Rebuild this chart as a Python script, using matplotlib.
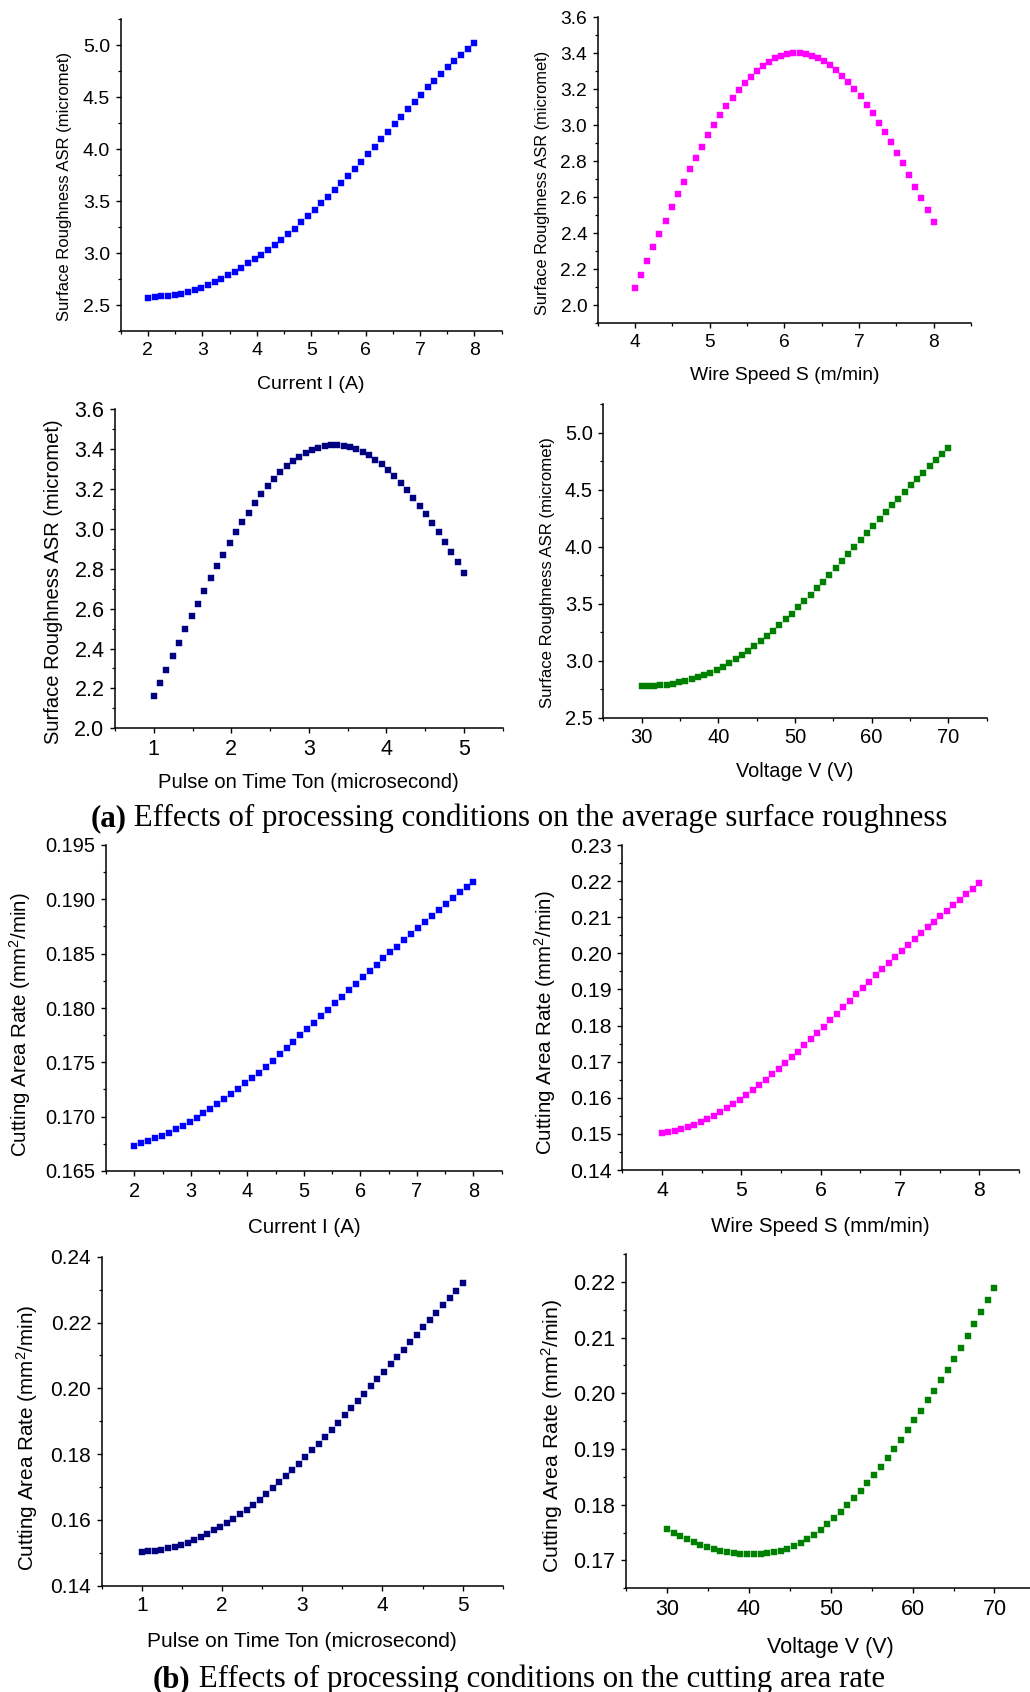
import numpy as np
import matplotlib
matplotlib.use('Agg')
from matplotlib import pyplot as plt
from matplotlib.ticker import MultipleLocator, FormatStrFormatter

plt.rcParams['font.family'] = 'Liberation Sans'
plt.rcParams['mathtext.fontset'] = 'custom'
plt.rcParams['mathtext.rm'] = 'Liberation Sans'
plt.rcParams['mathtext.it'] = 'Liberation Sans:italic'
plt.rcParams['mathtext.bf'] = 'Liberation Sans:bold'

W, H = 1030, 1692

# process parameter grids (50 evenly spaced settings each)
current_I = np.linspace(2, 8, 50)
wire_speed = np.linspace(4, 8, 50)
pulse_on = np.linspace(1, 5, 50)
voltage = np.linspace(30, 70, 50)

# average surface roughness ASR (micrometre)
asr_current = [2.571, 2.577, 2.584, 2.590, 2.600, 2.609, 2.625, 2.642, 2.667, 2.690,
               2.719, 2.751, 2.786, 2.822, 2.860, 2.902, 2.944, 2.986, 3.031, 3.076,
               3.127, 3.179, 3.234, 3.295, 3.353, 3.417, 3.478, 3.542, 3.610, 3.674,
               3.742, 3.813, 3.880, 3.954, 4.025, 4.099, 4.170, 4.241, 4.311, 4.382,
               4.456, 4.524, 4.595, 4.659, 4.723, 4.788, 4.846, 4.905, 4.961, 5.019]
asr_speed = [2.096, 2.170, 2.246, 2.324, 2.398, 2.470, 2.544, 2.619, 2.687, 2.754,
             2.820, 2.881, 2.943, 3.000, 3.054, 3.104, 3.150, 3.193, 3.233, 3.269,
             3.300, 3.328, 3.352, 3.370, 3.383, 3.393, 3.398, 3.398, 3.394, 3.385,
             3.372, 3.354, 3.331, 3.304, 3.272, 3.239, 3.200, 3.159, 3.113, 3.065,
             3.013, 2.959, 2.904, 2.846, 2.787, 2.724, 2.659, 2.593, 2.528, 2.461]
asr_pulse = [2.161, 2.227, 2.294, 2.363, 2.430, 2.497, 2.562, 2.625, 2.691, 2.754,
             2.813, 2.871, 2.930, 2.983, 3.033, 3.082, 3.129, 3.174, 3.214, 3.251,
             3.284, 3.314, 3.341, 3.363, 3.381, 3.396, 3.408, 3.416, 3.420, 3.420,
             3.416, 3.410, 3.400, 3.386, 3.370, 3.348, 3.324, 3.296, 3.266, 3.231,
             3.194, 3.156, 3.115, 3.074, 3.030, 2.983, 2.933, 2.883, 2.833, 2.778]
asr_voltage = [2.780, 2.780, 2.780, 2.783, 2.789, 2.798, 2.810, 2.821, 2.836, 2.853,
               2.874, 2.894, 2.918, 2.947, 2.976, 3.011, 3.049, 3.087, 3.128, 3.172,
               3.218, 3.265, 3.315, 3.364, 3.414, 3.470, 3.525, 3.581, 3.636, 3.695,
               3.753, 3.814, 3.876, 3.937, 3.998, 4.063, 4.124, 4.182, 4.244, 4.305,
               4.363, 4.422, 4.480, 4.539, 4.597, 4.650, 4.705, 4.758, 4.812, 4.870]

# cutting area rate (mm2/min)
car_current = [0.16730, 0.16755, 0.16776, 0.16801, 0.16825, 0.16853, 0.16883, 0.16917, 0.16954, 0.16991,
               0.17031, 0.17074, 0.17117, 0.17160, 0.17209, 0.17255, 0.17307, 0.17353, 0.17405, 0.17460,
               0.17515, 0.17574, 0.17629, 0.17690, 0.17752, 0.17804, 0.17865, 0.17926, 0.17982, 0.18043,
               0.18104, 0.18166, 0.18221, 0.18282, 0.18341, 0.18396, 0.18457, 0.18512, 0.18564, 0.18626,
               0.18681, 0.18739, 0.18795, 0.18850, 0.18902, 0.18957, 0.19009, 0.19064, 0.19117, 0.19163]
car_speed = [0.1502, 0.1504, 0.1508, 0.1513, 0.1518, 0.1525, 0.1532, 0.1540, 0.1550, 0.1560,
             0.1571, 0.1583, 0.1595, 0.1608, 0.1622, 0.1635, 0.1650, 0.1665, 0.1680, 0.1696,
             0.1712, 0.1728, 0.1745, 0.1762, 0.1780, 0.1797, 0.1815, 0.1833, 0.1851, 0.1869,
             0.1887, 0.1904, 0.1922, 0.1939, 0.1956, 0.1973, 0.1990, 0.2007, 0.2023, 0.2040,
             0.2056, 0.2072, 0.2087, 0.2103, 0.2118, 0.2133, 0.2148, 0.2163, 0.2178, 0.2195]
car_pulse = [0.1502, 0.1504, 0.1506, 0.1509, 0.1514, 0.1519, 0.1525, 0.1531, 0.1539, 0.1548,
             0.1557, 0.1568, 0.1579, 0.1591, 0.1603, 0.1617, 0.1631, 0.1646, 0.1662, 0.1679,
             0.1696, 0.1714, 0.1732, 0.1751, 0.1771, 0.1791, 0.1811, 0.1832, 0.1853, 0.1874,
             0.1896, 0.1918, 0.1940, 0.1962, 0.1984, 0.2006, 0.2028, 0.2050, 0.2073, 0.2095,
             0.2117, 0.2140, 0.2162, 0.2185, 0.2207, 0.2229, 0.2252, 0.2274, 0.2296, 0.2319]
car_voltage = [0.17568, 0.17496, 0.17437, 0.17377, 0.17329, 0.17281, 0.17239, 0.17203, 0.17173, 0.17150,
               0.17132, 0.17120, 0.17108, 0.17108, 0.17114, 0.17126, 0.17144, 0.17173, 0.17209, 0.17257,
               0.17311, 0.17380, 0.17458, 0.17550, 0.17650, 0.17760, 0.17873, 0.17993, 0.18118, 0.18250,
               0.18388, 0.18531, 0.18681, 0.18836, 0.18998, 0.19165, 0.19338, 0.19512, 0.19691, 0.19871,
               0.20050, 0.20236, 0.20427, 0.20618, 0.20816, 0.21025, 0.21240, 0.21456, 0.21671, 0.21886]

asr_label = 'Surface Roughness ASR (micromet)'
car_label = 'Cutting Area Rate (mm$^2$/min)'

fig = plt.figure(figsize=(W / 100, H / 100), dpi=100)


def panel(box, x, y, color, xlim, ylim, xstep, ystep, yfmt, xlabel, ylabel,
          tick_fs, xl_fs, yl_fs, xl_top, yl_right, yl_mid, xfmt='%d'):
    # box = (left, top, right, bottom) in pixels
    left, top, right, bottom = box
    ax = fig.add_axes([left / W, 1 - bottom / H, (right - left) / W, (bottom - top) / H])
    ax.plot(x, y, ls='none', marker='s', ms=4.7, color=color, mec=color, mew=0.3, clip_on=False)
    ax.set_xlim(xlim)
    ax.set_ylim(ylim)
    ax.xaxis.set_major_locator(MultipleLocator(xstep[0]))
    ax.xaxis.set_minor_locator(MultipleLocator(xstep[1]))
    ax.yaxis.set_major_locator(MultipleLocator(ystep[0]))
    ax.yaxis.set_minor_locator(MultipleLocator(ystep[1]))
    ax.xaxis.set_major_formatter(FormatStrFormatter(xfmt))
    ax.yaxis.set_major_formatter(FormatStrFormatter(yfmt))
    for s in ['top', 'right']:
        ax.spines[s].set_visible(False)
    for s in ['left', 'bottom']:
        ax.spines[s].set_linewidth(1.1)
    ax.tick_params(which='major', direction='out', length=3.6, width=1.0, pad=4,
                   labelsize=tick_fs, colors='black')
    ax.tick_params(which='minor', direction='out', length=2.2, width=0.9)
    ax.set_xlabel(xlabel, fontsize=xl_fs)
    ax.set_ylabel(ylabel, fontsize=yl_fs)
    ax.xaxis.set_label_coords(0.5, -(xl_top - bottom) / (bottom - top))
    ax.yaxis.set_label_coords((yl_right - left) / (right - left), (bottom - yl_mid) / (bottom - top))
    return ax


# (a) surface roughness
panel((120.7, 19.3, 501.7, 331), current_I, asr_current, '#0000FF', (1.5, 8.5), (2.25, 5.25),
      (1, 0.5), (0.5, 0.25), '%.1f', 'Current I (A)', asr_label, 14, 14, 12, 376, 72, 186.7)
panel((597.7, 17, 971, 323.3), wire_speed, asr_speed, '#FF00FF', (3.5, 8.5), (1.9, 3.6),
      (1, 0.5), (0.2, 0.1), '%.1f', 'Wire Speed S (m/min)', asr_label, 13.8, 13.9, 11.8, 366.7, 550, 182.5)
panel((115, 409.3, 502.7, 728.3), pulse_on, asr_pulse, '#000080', (0.5, 5.5), (2.0, 3.6),
      (1, 0.5), (0.2, 0.1), '%.1f', 'Pulse on Time Ton (microsecond)', asr_label, 15.5, 14.6, 14.5, 773.3, 63.3, 581.7)
panel((603.3, 404.3, 986.7, 717.7), voltage, asr_voltage, '#008000', (25, 75), (2.5, 5.25),
      (10, 5), (0.5, 0.25), '%.1f', 'Voltage V (V)', asr_label, 14.5, 14.3, 12.1, 761.7, 555, 572.5)

# (b) cutting area rate
panel((106, 845, 501.7, 1171), current_I, car_current, '#0000FF', (1.5, 8.5), (0.165, 0.195),
      (1, 0.5), (0.005, 0.0025), '%.3f', 'Current I (A)', car_label, 14.4, 14.8, 14.8, 1218.3, 32.7, 1025)
panel((622.3, 845, 1019, 1170), wire_speed, car_speed, '#FF00FF', (3.5, 8.5), (0.14, 0.23),
      (1, 0.5), (0.01, 0.005), '%.2f', 'Wire Speed S (mm/min)', car_label, 15.4, 14.8, 14.8, 1216.7, 558.3, 1023)
panel((101.7, 1256.7, 502.7, 1585.7), pulse_on, car_pulse, '#000080', (0.5, 5.5), (0.14, 0.24),
      (1, 0.5), (0.02, 0.01), '%.2f', 'Pulse on Time Ton (microsecond)', car_label, 15, 15, 14.9, 1631.7, 40, 1437.5)
panel((626, 1254, 1035.4, 1588.3), voltage, car_voltage, '#008000', (25, 75), (0.165, 0.225),
      (10, 5), (0.01, 0.005), '%.2f', 'Voltage V (V)', car_label, 15.5, 15.5, 15.3, 1636.7, 565, 1435.8)

# captions: bold tag followed by plain text, centred as one line
fig.canvas.draw()
renderer = fig.canvas.get_renderer()
for tag, text, base in [('(a)', ' Effects of processing conditions on the average surface roughness', 826),
                        ('(b)', ' Effects of processing conditions on the cutting area rate', 1687)]:
    t1 = fig.text(0, 1 - base / H, tag, fontsize=22.2, fontweight='bold', family='Liberation Serif',
                  va='baseline', ha='left')
    t2 = fig.text(0, 1 - base / H, text, fontsize=22.2, family='Liberation Serif', va='baseline', ha='left')
    w1 = t1.get_window_extent(renderer).width
    w2 = t2.get_window_extent(renderer).width
    x0 = 519 - (w1 + w2) / 2
    t1.set_x(x0 / W)
    t2.set_x((x0 + w1) / W)

fig.savefig('out.png', dpi=100)
